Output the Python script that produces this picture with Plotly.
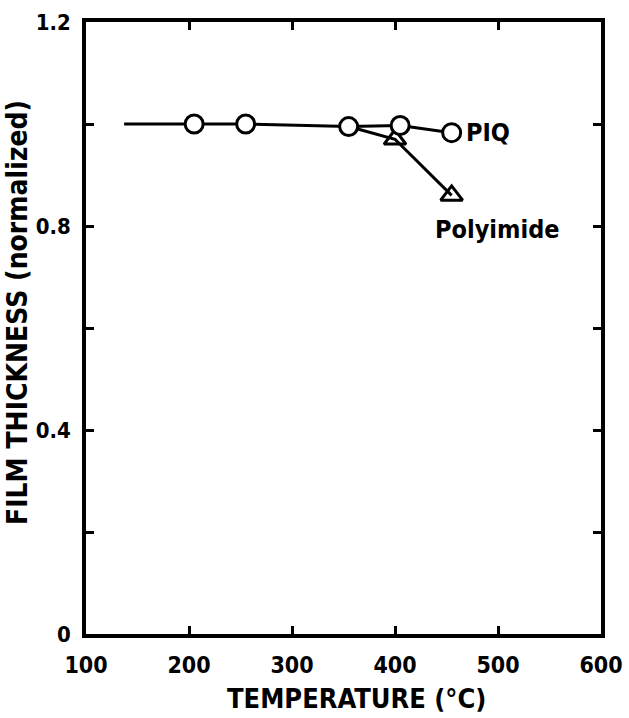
import plotly.graph_objects as go

# PIQ series (first point is where the drawn line starts, no marker)
piq_x = [137, 205, 255, 355, 405, 455]
piq_y = [1.0, 1.0, 1.0, 0.995, 0.997, 0.983]
piq_marker = [False, True, True, True, True, True]

# Polyimide series (branches off at 355 °C)
poly_x = [355, 400, 455]
poly_y = [0.995, 0.97, 0.86]
poly_marker = [False, True, True]

x_ticks = [100, 200, 300, 400, 500, 600]
y_ticks = [0, 0.2, 0.4, 0.6, 0.8, 1.0, 1.2]
y_tick_text = ["0", "", "0.4", "", "0.8", "", "1.2"]

x_title = "TEMPERATURE (°C)"
y_title = "FILM THICKNESS (normalized)"

font_fam = "DejaVu Sans Condensed, DejaVu Sans, Arial, sans-serif"

fig = go.Figure()
fig.add_trace(go.Scatter(
    x=poly_x, y=poly_y, mode="lines+markers",
    line=dict(color="black", width=3),
    marker=dict(symbol="triangle-up-open", color="black", opacity=1,
                size=[19 if m else 0 for m in poly_marker],
                line=dict(width=3, color="black")),
    showlegend=False))
fig.add_trace(go.Scatter(
    x=piq_x, y=piq_y, mode="lines+markers",
    line=dict(color="black", width=3),
    marker=dict(symbol="circle", color="white", opacity=1,
                size=[18 if m else 0 for m in piq_marker],
                line=dict(width=3, color="black")),
    showlegend=False))

fig.add_annotation(x=piq_x[-1], y=piq_y[-1], text="<b>PIQ</b>", showarrow=False,
                   xanchor="left", yanchor="middle", xshift=12,
                   font=dict(family=font_fam, size=25, color="black"))
fig.add_annotation(x=poly_x[-1], y=poly_y[-1], text="<b>Polyimide</b>", showarrow=False,
                   xanchor="center", yanchor="top", xshift=46, yshift=-18,
                   font=dict(family=font_fam, size=25, color="black"))

# axis titles placed as annotations
fig.add_annotation(xref="paper", yref="paper", x=0.525, y=-0.106, text="<b>" + x_title + "</b>",
                   showarrow=False, xanchor="center", yanchor="middle",
                   font=dict(family=font_fam, size=27, color="black"))
fig.add_annotation(xref="paper", yref="paper", x=-0.134, y=0.526, text="<b>" + y_title + "</b>",
                   showarrow=False, xanchor="center", yanchor="middle", textangle=-90,
                   font=dict(family=font_fam, size=28, color="black"))

fig.update_xaxes(range=[100, 600], tickvals=x_ticks, ticks="inside", ticklen=8,
                 tickwidth=2.5, tickcolor="black", mirror="ticks", showline=True,
                 linecolor="black", linewidth=3.5, showgrid=False, zeroline=False,
                 ticklabelstandoff=8,
                 tickfont=dict(family=font_fam, size=23, color="black", weight="bold"))
fig.update_yaxes(range=[0, 1.2], tickvals=y_ticks, ticktext=y_tick_text, ticks="inside",
                 ticklen=8, tickwidth=2.5, tickcolor="black", mirror="ticks", showline=True,
                 linecolor="black", linewidth=3.5, showgrid=False, zeroline=False,
                 ticklabelstandoff=7,
                 tickfont=dict(family=font_fam, size=22, color="black", weight="bold"))

fig.update_layout(width=629, height=718, plot_bgcolor="white", paper_bgcolor="white",
                  margin=dict(l=86, r=28, t=22, b=84, autoexpand=False))

fig.write_html("out.html")
